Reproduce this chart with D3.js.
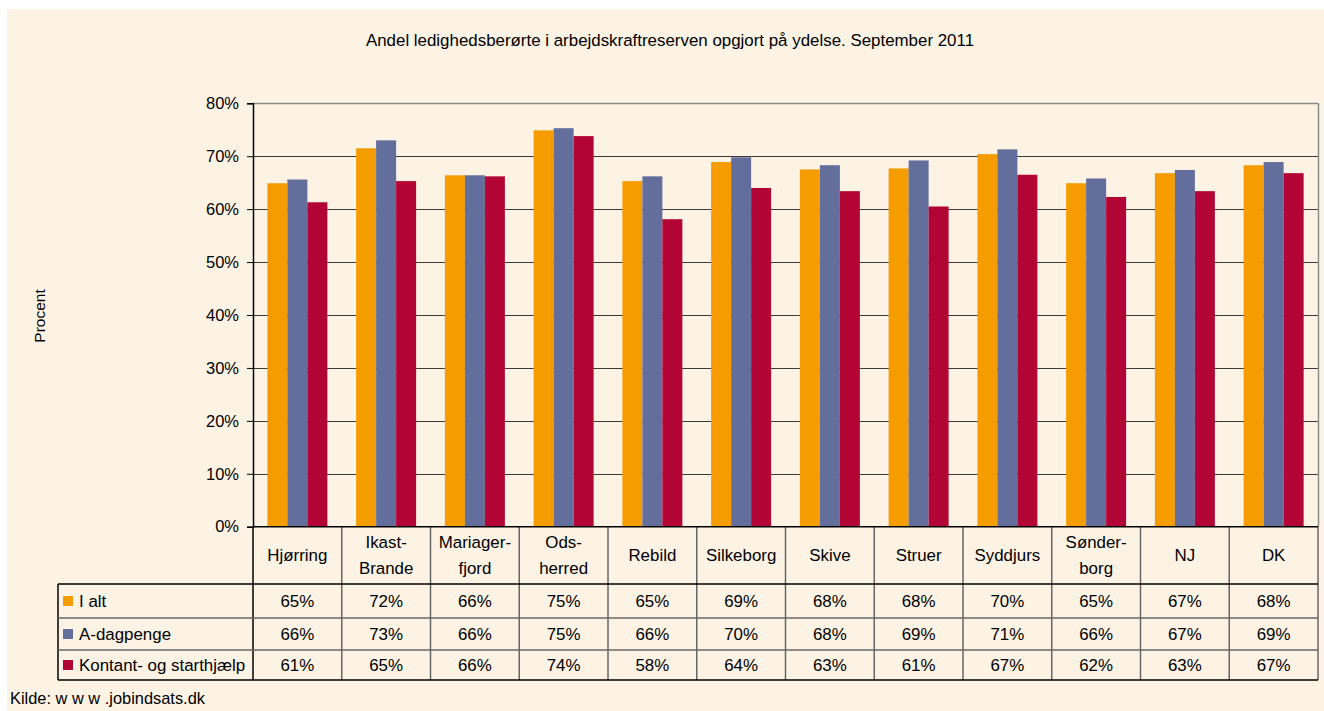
<!DOCTYPE html>
<html><head><meta charset="utf-8">
<script src="https://cdn.jsdelivr.net/npm/d3@7/dist/d3.min.js"></script>
<style>body{margin:0;background:#fff;}svg{display:block;font-family:"Liberation Sans",Arial,sans-serif;}</style>
</head><body><svg id="c" width="1324" height="711"></svg>
<script>
const categories = ["Hjørring","Ikast-\nBrande","Mariager-\nfjord","Ods-\nherred","Rebild","Silkeborg","Skive","Struer","Syddjurs","Sønder-\nborg","NJ","DK"];
const seriesNames = ["I alt","A-dagpenge","Kontant- og starthjælp"];
const iAlt      = [64.9,71.5,66.4,74.9,65.3,68.9,67.5,67.7,70.4,64.9,66.8,68.3];
const aDagpenge = [65.6,73.0,66.4,75.3,66.2,69.8,68.3,69.2,71.3,65.8,67.4,68.9];
const kontant   = [61.3,65.3,66.2,73.8,58.1,64.0,63.4,60.5,66.5,62.3,63.4,66.8];
const yTicks = [0,10,20,30,40,50,60,70,80];
const colors = ["#F59D00","#636E9C","#B20435"];
const seriesValues = [iAlt, aDagpenge, kontant];

const svg = d3.select("#c");
svg.append("rect").attr("x",7).attr("y",9).attr("width",1317).attr("height",702).attr("fill","#FDF3E5");

const L=253, R=1318, T=103.3, B=526.7;
const x = d3.scaleBand().domain(categories).range([L,R]).paddingInner(0.324).paddingOuter(0.162);
const xs = d3.scaleBand().domain([0,1,2]).range([0,x.bandwidth()]);
const y = d3.scaleLinear().domain([0,80]).range([B,T]);

svg.append("text").attr("x",670).attr("y",46).attr("text-anchor","middle").attr("font-size",16.9).attr("fill","#000")
  .text("Andel ledighedsberørte i arbejdskraftreserven opgjort på ydelse. September 2011");

// gridlines
svg.append("g").selectAll("line").data(yTicks.filter(d=>d>0&&d<80)).join("line")
  .attr("x1",L).attr("x2",R).attr("y1",d=>Math.round(y(d))+0.5).attr("y2",d=>Math.round(y(d))+0.5)
  .attr("stroke","#3a3a3a").attr("stroke-width",1.2);
// top & right border
svg.append("line").attr("x1",L).attr("x2",R).attr("y1",Math.round(T)+0.5).attr("y2",Math.round(T)+0.5).attr("stroke","#8a8a8a").attr("stroke-width",1.5);
svg.append("line").attr("x1",R+0.5).attr("x2",R+0.5).attr("y1",T).attr("y2",B).attr("stroke","#8a8a8a").attr("stroke-width",1.5);

// bars
seriesValues.forEach((vals,si)=>{
  svg.append("g").selectAll("rect").data(vals).join("rect")
    .attr("x",(d,i)=>x(categories[i])+xs(si)).attr("width",xs.bandwidth())
    .attr("y",d=>y(d)).attr("height",d=>y(0)-y(d)).attr("fill",colors[si]);
});

// y axis
const yAxis = d3.axisLeft(y).tickValues(yTicks).tickFormat(d=>d+"%").tickSize(6).tickPadding(8);
const ga = svg.append("g").attr("transform",`translate(${L},0)`).call(yAxis);
ga.select(".domain").attr("stroke","#000").attr("stroke-width",1.5);
ga.selectAll(".tick line").attr("stroke","#000");
ga.selectAll("text").attr("font-size",16.5).attr("fill","#000").attr("font-family","Liberation Sans, Arial, sans-serif");

svg.append("text").attr("transform","translate(45,316) rotate(-90)").attr("text-anchor","middle").attr("font-size",15.5).text("Procent");

// table
const rowY = [526.7, 584, 618, 650, 680];
const tableLeft = 58;
const step = x.step();
const edges = categories.map((c,i)=>L + i*step).concat([R]);
const tg = svg.append("g");
edges.forEach((e,i)=>{
  tg.append("line").attr("x1",e).attr("x2",e).attr("y1",rowY[0]).attr("y2",rowY[4])
    .attr("stroke", (i===0)?"#000":"#666").attr("stroke-width",1.5);
});
tg.append("line").attr("x1",tableLeft).attr("x2",tableLeft).attr("y1",rowY[1]).attr("y2",rowY[4]).attr("stroke","#000").attr("stroke-width",1.5);
tg.append("line").attr("x1",L).attr("x2",R).attr("y1",rowY[0]).attr("y2",rowY[0]).attr("stroke","#000").attr("stroke-width",1.5);
tg.append("line").attr("x1",tableLeft).attr("x2",R).attr("y1",rowY[1]).attr("y2",rowY[1]).attr("stroke","#000").attr("stroke-width",1.5);
tg.append("line").attr("x1",tableLeft).attr("x2",R).attr("y1",rowY[2]).attr("y2",rowY[2]).attr("stroke","#666").attr("stroke-width",1.5);
tg.append("line").attr("x1",tableLeft).attr("x2",R).attr("y1",rowY[3]).attr("y2",rowY[3]).attr("stroke","#666").attr("stroke-width",1.5);
tg.append("line").attr("x1",tableLeft).attr("x2",R).attr("y1",rowY[4]).attr("y2",rowY[4]).attr("stroke","#000").attr("stroke-width",1.5);

categories.forEach((c)=>{
  const lines = c.split("\n");
  const cx = x(c)+x.bandwidth()/2;
  const cy = (rowY[0]+rowY[1])/2;
  const t = tg.append("text").attr("text-anchor","middle").attr("font-size",16.9).attr("fill","#000");
  lines.forEach((ln,k)=>{
    t.append("tspan").attr("x",cx).attr("y",cy + 6 + (k-(lines.length-1)/2)*26).text(ln);
  });
});
const fmt = v => Math.round(v)+"%";
seriesValues.forEach((vals,si)=>{
  const cy = (rowY[si+1]+rowY[si+2])/2;
  tg.append("rect").attr("x",63).attr("y",cy-5).attr("width",10).attr("height",10).attr("fill",colors[si]);
  tg.append("text").attr("x",79).attr("y",cy+6).attr("font-size",16.9).text(seriesNames[si]);
  vals.forEach((v,i)=>{
    tg.append("text").attr("x",x(categories[i])+x.bandwidth()/2).attr("y",cy+6).attr("text-anchor","middle").attr("font-size",16.9).text(fmt(v));
  });
});

svg.append("text").attr("x",10).attr("y",704).attr("font-size",16.4).text("Kilde: w w w .jobindsats.dk");
</script></body></html>
